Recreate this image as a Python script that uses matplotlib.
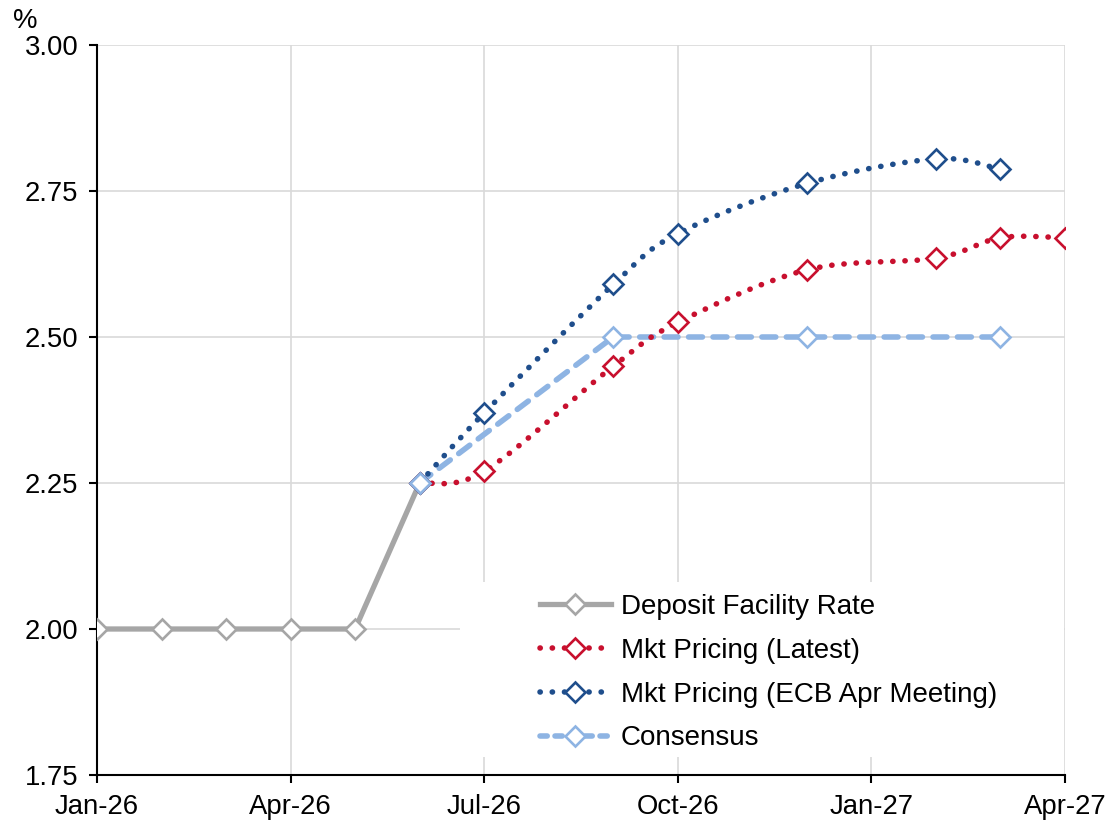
import datetime as dt
import numpy as np
import matplotlib
matplotlib.use("Agg")
from matplotlib import pyplot as plt
from matplotlib.path import Path
from matplotlib.patches import PathPatch, Rectangle
from matplotlib.lines import Line2D

plt.rcParams['font.family'] = ['Liberation Sans', 'DejaVu Sans']

# data
dfr_dates = ["2026-01-01", "2026-02-01", "2026-03-01", "2026-04-01", "2026-05-01", "2026-06-01"]
dfr_vals = [2.00, 2.00, 2.00, 2.00, 2.00, 2.25]

latest_dates = ["2026-06-01", "2026-07-01", "2026-09-01", "2026-10-01", "2026-12-01",
                "2027-02-01", "2027-03-01", "2027-04-01"]
latest_vals = [2.25, 2.27, 2.45, 2.525, 2.615, 2.635, 2.67, 2.67]

ecb_apr_dates = ["2026-06-01", "2026-07-01", "2026-09-01", "2026-10-01", "2026-12-01",
                 "2027-02-01", "2027-03-01"]
ecb_apr_vals = [2.25, 2.37, 2.59, 2.677, 2.763, 2.805, 2.787]

cons_dates = ["2026-06-01", "2026-09-01", "2026-12-01", "2027-03-01"]
cons_vals = [2.25, 2.50, 2.50, 2.50]

tick_dates = ["2026-01-01", "2026-04-01", "2026-07-01", "2026-10-01", "2027-01-01", "2027-04-01"]

labels = ["Deposit Facility Rate", "Mkt Pricing (Latest)",
          "Mkt Pricing (ECB Apr Meeting)", "Consensus"]

c_grey = '#A6A6A6'
c_red = '#C8102E'
c_navy = '#1F4E8C'
c_light = '#8EB4E3'
c_grid = '#D9D9D9'

FS = 19.8
LFS = 20.0


def parse(d):
	return dt.datetime.strptime(d, "%Y-%m-%d")


def to_num(dates):
	# month based date axis, like excel's "base unit: months"
	return np.array([(parse(d).year - 2026) * 12 + parse(d).month - 1 for d in dates], dtype=float)


def smooth_path(x, y):
	# excel-style smoothed line (catmull-rom as cubic bezier segments)
	p = np.column_stack([x, y])
	n = len(p)
	verts = [p[0]]
	codes = [Path.MOVETO]
	for i in range(n - 1):
		p0 = p[i - 1] if i > 0 else p[i]
		p3 = p[i + 2] if i + 2 < n else p[i + 1]
		c1 = p[i] + (p[i + 1] - p0) / 6.0
		c2 = p[i + 1] - (p3 - p[i]) / 6.0
		verts += [c1, c2, p[i + 1]]
		codes += [Path.CURVE4] * 3
	return Path(verts, codes)


fig = plt.figure(figsize=(11.09, 8.26), dpi=100)
ax = fig.add_axes([97/1109, 1 - 775/826, (1065-97)/1109, (775-45)/826])

dot_lw = 4.0
dot = (0, (0.05, 2.15))
dash = (0, (2.5, 1.9))
mk = dict(marker='D', markersize=9.8, markeredgewidth=1.9, markerfacecolor='white')

# deposit facility rate
x = to_num(dfr_dates)
ax.plot(x, dfr_vals, color=c_grey, lw=3.8, markeredgecolor=c_grey, zorder=3, **mk)

# consensus line
x = to_num(cons_dates)
ax.plot(x, cons_vals, color=c_light, lw=4, linestyle=dash, dash_capstyle='round', zorder=3)

# market pricing, smoothed
for dates, vals, col in [(latest_dates, latest_vals, c_red), (ecb_apr_dates, ecb_apr_vals, c_navy)]:
	x = to_num(dates)
	patch = PathPatch(smooth_path(x, vals), fill=False, edgecolor=col, lw=dot_lw,
	                  linestyle=dot, capstyle='round', zorder=4)
	ax.add_patch(patch)
	ax.plot(x, vals, linestyle='none', markeredgecolor=col, zorder=5, **mk)

x = to_num(cons_dates)
ax.plot(x, cons_vals, linestyle='none', markeredgecolor=c_light, zorder=6, **mk)

# axes
ticks = to_num(tick_dates)
ax.set_xlim(ticks[0], ticks[-1])
ax.set_xticks(ticks)
ax.set_xticklabels([parse(d).strftime('%b-%y') for d in tick_dates])
ax.set_ylim(1.75, 3.00)
ax.set_yticks(np.arange(1.75, 3.001, 0.25))
ax.yaxis.set_major_formatter(matplotlib.ticker.FormatStrFormatter('%.2f'))
ax.grid(True, color=c_grid, lw=1.2)
ax.set_axisbelow(True)
for s in ['top', 'right']:
	ax.spines[s].set_visible(False)
for s in ['left', 'bottom']:
	ax.spines[s].set_linewidth(1.5)
ax.tick_params(axis='both', direction='out', length=5.5, width=1.5, labelsize=FS, colors='black')
ax.tick_params(axis='y', pad=8)
ax.tick_params(axis='x', pad=8)

fig.text(25/1109, 1 - 21/826, "%", fontsize=FS, ha='center', va='center')

# white box behind the legend
ax.add_patch(Rectangle((0.375, 0.025), 0.624, 0.239, transform=ax.transAxes,
                       facecolor='white', edgecolor='none', zorder=1))

handles = [
	Line2D([], [], color=c_grey, lw=3.8, markeredgecolor=c_grey, **mk),
	Line2D([], [], color=c_red, lw=dot_lw, linestyle=dot, dash_capstyle='round', markeredgecolor=c_red, **mk),
	Line2D([], [], color=c_navy, lw=dot_lw, linestyle=dot, dash_capstyle='round', markeredgecolor=c_navy, **mk),
	Line2D([], [], color=c_light, lw=4, linestyle=(0, (1.3, 1.4)), dash_capstyle='round', markeredgecolor=c_light, **mk),
]
leg = ax.legend(handles, labels, loc='upper left', bbox_to_anchor=((540-97)/968, (775-594)/730),
                frameon=False, fontsize=LFS, handlelength=2.55, handletextpad=0.35,
                labelspacing=0.64, borderpad=0, borderaxespad=0, numpoints=1)

fig.savefig("out.png", dpi=100)
